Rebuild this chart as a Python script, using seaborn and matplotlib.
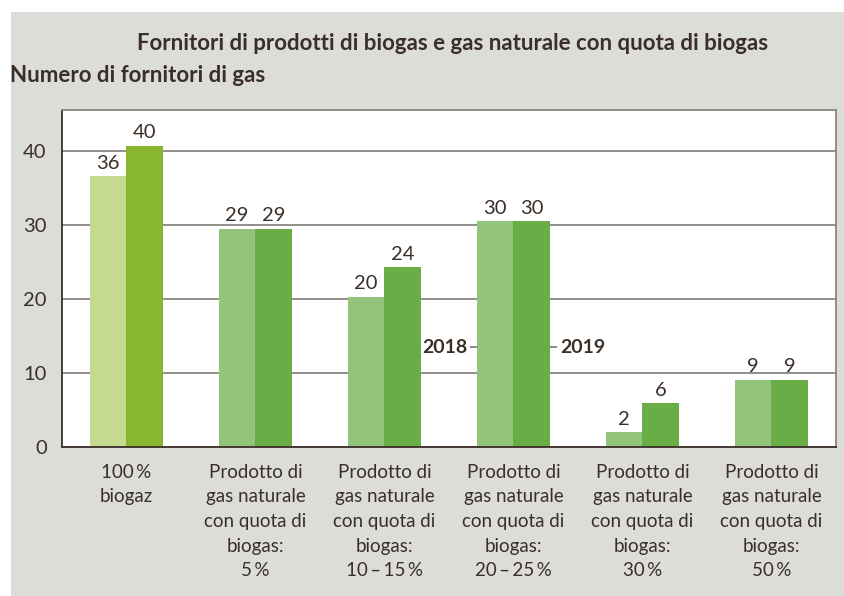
import pandas as pd
import matplotlib.pyplot as plt
import seaborn as sns
from matplotlib.patches import Rectangle

# dati
categorie = ['100\u2009%\nbiogaz',
             'Prodotto di\ngas naturale\ncon quota di\nbiogas:\n5\u2009%',
             'Prodotto di\ngas naturale\ncon quota di\nbiogas:\n10\u2009\u2013\u200915\u2009%',
             'Prodotto di\ngas naturale\ncon quota di\nbiogas:\n20\u2009\u2013\u200925\u2009%',
             'Prodotto di\ngas naturale\ncon quota di\nbiogas:\n30\u2009%',
             'Prodotto di\ngas naturale\ncon quota di\nbiogas:\n50\u2009%']
anni = ['2018', '2019']
valori_2018 = [36.6, 29.5, 20.3, 30.5, 2.0, 9.1]
valori_2019 = [40.7, 29.5, 24.3, 30.5, 5.9, 9.1]
etichette_2018 = [36, 29, 20, 30, 2, 9]
etichette_2019 = [40, 29, 24, 30, 6, 9]

df = pd.DataFrame({
    'categoria': categorie * 2,
    'anno': [anni[0]] * 6 + [anni[1]] * 6,
    'valore': valori_2018 + valori_2019,
})

sns.set_style('white')
plt.rcParams['font.family'] = ['Lato', 'DejaVu Sans']
testo = '#3a2e28'
griglia = '#8a8580'

fig = plt.figure(figsize=(8.45, 5.96), dpi=100)
fig.patch.set_facecolor('white')
fig.patches.append(Rectangle((11 / 845, 0), 1, 1 - 12 / 596, transform=fig.transFigure,
                             facecolor='#dcdcd9', edgecolor='none', zorder=-10))
ax = fig.add_axes([62 / 845, 1 - 447 / 596, 774 / 845, 337 / 596])

sns.barplot(data=df, x='categoria', y='valore', hue='anno', order=categorie,
            palette=['#93c47c', '#68ad45'], width=0.57, gap=0, saturation=1,
            linewidth=0, legend=False, ax=ax)

# il primo gruppo ha colori diversi
ax.containers[0][0].set_facecolor('#c5da8f')
ax.containers[1][0].set_facecolor('#89b62f')

ax.bar_label(ax.containers[0], labels=etichette_2018, padding=3, fontsize=14.5, color=testo)
ax.bar_label(ax.containers[1], labels=etichette_2019, padding=3, fontsize=14.5, color=testo)

ax.set_xlim(-0.5, 5.5)
ax.set_ylim(0, 45.5)
ax.set_yticks([0, 10, 20, 30, 40])
ax.yaxis.grid(True, color=griglia, linewidth=1.3)
ax.set_axisbelow(True)
ax.set_xlabel('')
ax.set_ylabel('')
ax.tick_params(axis='y', length=7, width=1.2, color=testo, labelsize=14.5, labelcolor=testo, pad=4)
ax.tick_params(axis='x', length=0, labelsize=13.5, labelcolor=testo, pad=12)
for lab in ax.get_xticklabels():
    lab.set_linespacing(1.55)
for lato in ['left', 'bottom']:
    ax.spines[lato].set_color(testo)
    ax.spines[lato].set_linewidth(1.3)
for lato in ['top', 'right']:
    ax.spines[lato].set_color(griglia)
    ax.spines[lato].set_linewidth(1.3)

# etichette 2018 / 2019 sul quarto gruppo
b18 = ax.containers[0][3]
b19 = ax.containers[1][3]
ax.annotate('2018', xy=(b18.get_x(), 13.5), xytext=(-7, 0), textcoords='offset points',
            ha='right', va='center', fontsize=14, fontweight='bold', color=testo,
            arrowprops=dict(arrowstyle='-', color=testo, lw=0.8, shrinkA=0, shrinkB=0))
ax.annotate('2019', xy=(b19.get_x() + b19.get_width(), 13.5), xytext=(7, 0),
            textcoords='offset points', ha='left', va='center', fontsize=14,
            fontweight='bold', color=testo,
            arrowprops=dict(arrowstyle='-', color=testo, lw=0.8, shrinkA=0, shrinkB=0))

fig.text(453 / 845, 1 - 44 / 596, 'Fornitori di prodotti di biogas e gas naturale con quota di biogas',
         ha='center', va='center', fontsize=16, fontweight='bold', color=testo)
fig.text(10 / 845, 1 - 76 / 596, 'Numero di fornitori di gas',
         ha='left', va='center', fontsize=16, fontweight='bold', color=testo)

fig.savefig('out.png', dpi=100, facecolor=fig.get_facecolor())
